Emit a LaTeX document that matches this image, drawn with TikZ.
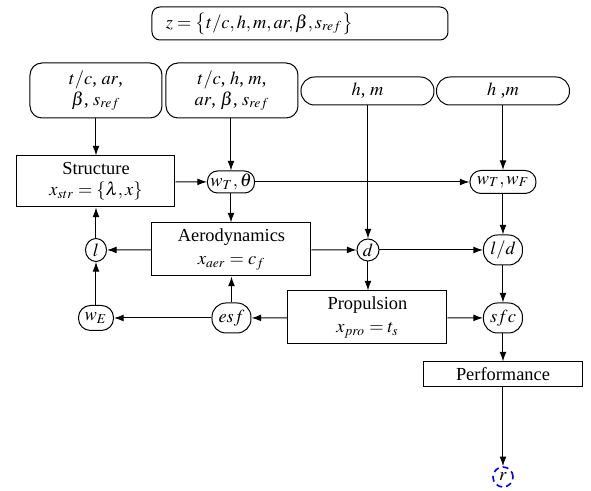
\documentclass[tikz,border=0pt]{standalone}
\usepackage{mathptmx}
\usepackage[no-math]{fontspec}
\setmainfont{Liberation Serif}
\usetikzlibrary{arrows.meta,shapes.geometric}
\begin{document}
\begin{tikzpicture}[x=0.5pt,y=-0.5pt,
  every node/.style={font=\fontsize{9.2}{10.5}\selectfont, line width=0.5pt},
  blk/.style={draw, rectangle, minimum width=79.5pt, minimum height=26.5pt, align=center, inner sep=1pt},
  inbox/.style={draw, rounded corners=6pt, minimum width=66pt, minimum height=27.5pt, align=center, inner sep=1pt},
  pill/.style={draw, rounded corners=6.8pt, minimum width=66.5pt, minimum height=14pt, inner sep=1pt},
  var/.style={draw, rounded corners=#1, inner sep=1pt},
  circ/.style={draw, circle, inner sep=0.5pt, minimum size=11pt},
  arr/.style={-{Latex[length=4.8pt,width=3.4pt]}, line width=0.5pt}
]
\useasboundingbox (0,0) rectangle (591,491);

\node[draw, rounded corners=4pt, text width=134pt, align=left, inner xsep=7pt, inner ysep=1pt, minimum height=16.5pt] (z) at (300,23.5)
  {$z=\left\{t/c,h,m,ar,\beta,s_{ref}\right\}$};

\node[inbox] (in1) at (96,90.5) {$t/c$, $ar$,\\ $\beta$, $s_{ref}$};
\node[inbox] (in2) at (232,90.5) {$t/c$, $h$, $m$,\\ $ar$, $\beta$, $s_{ref}$};
\node[pill] (in3) at (367.5,91) {$h$, $m$};
\node[pill] (in4) at (503,91) {$h$ ,$m$};

\node[blk, minimum width=79pt, minimum height=25.5pt] (str) at (96,181.5) {Structure\\ $x_{str}=\{\lambda,x\}$};
\node[var=5pt, minimum width=23.5pt, minimum height=11pt] (wt) at (231,182) {$w_T,\theta$};
\node[var=5.5pt, minimum width=33pt, minimum height=11.5pt] (wtwf) at (503,182) {$w_T,w_F$};

\node[blk] (aero) at (231.5,249.5) {Aerodynamics\\[1pt] $x_{aer}=c_f$};
\node[draw, ellipse, inner sep=0pt, minimum width=10.5pt, minimum height=11.5pt] (l) at (96,250) {$l$};
\node[circ] (d) at (368,250) {$d$};
\node[var=7pt, minimum width=19.5pt, minimum height=15pt] (ld) at (503,250) {$l/d$};

\node[var=6pt, minimum width=17.5pt, minimum height=12.5pt] (we) at (96,318) {$w_E$};
\node[var=7pt, minimum width=19.5pt, minimum height=15pt] (esf) at (231.5,318) {$esf$};
\node[blk] (prop) at (367.5,317.5) {Propulsion\\[1pt] $x_{pro}=t_s$};
\node[var=7pt, minimum width=19.5pt, minimum height=15pt] (sfc) at (503,318) {$sfc$};

\node[blk, minimum height=12.5pt] (perf) at (503,374.5) {Performance};
\node[circ, draw=blue, densely dashed, line width=0.8pt, minimum size=10pt] (r) at (503,477) {$r$};

\draw[arr] (in1) -- (str);
\draw[arr] (in2.south -| wt) -- (wt);
\draw[arr] (str) -- (wt);
\draw[arr] (wt) -- (wtwf);
\draw[arr] (in4) -- (wtwf);
\draw[arr] (in3.south -| d) -- (d);
\draw[arr] (wt) -- (wt |- aero.north);
\draw[arr] (wtwf) -- (ld);
\draw[arr] (aero) -- (l);
\draw[arr] (aero) -- (d);
\draw[arr] (d) -- (ld);
\draw[arr] (l) -- (str);
\draw[arr] (we) -- (l);
\draw[arr] (d) -- (d |- prop.north);
\draw[arr] (esf) -- (esf |- aero.south);
\draw[arr] (esf) -- (we);
\draw[arr] (prop) -- (esf);
\draw[arr] (prop) -- (sfc);
\draw[arr] (ld) -- (sfc);
\draw[arr] (sfc) -- (sfc |- perf.north);
\draw[arr] (perf) -- (r);
\end{tikzpicture}
\end{document}
